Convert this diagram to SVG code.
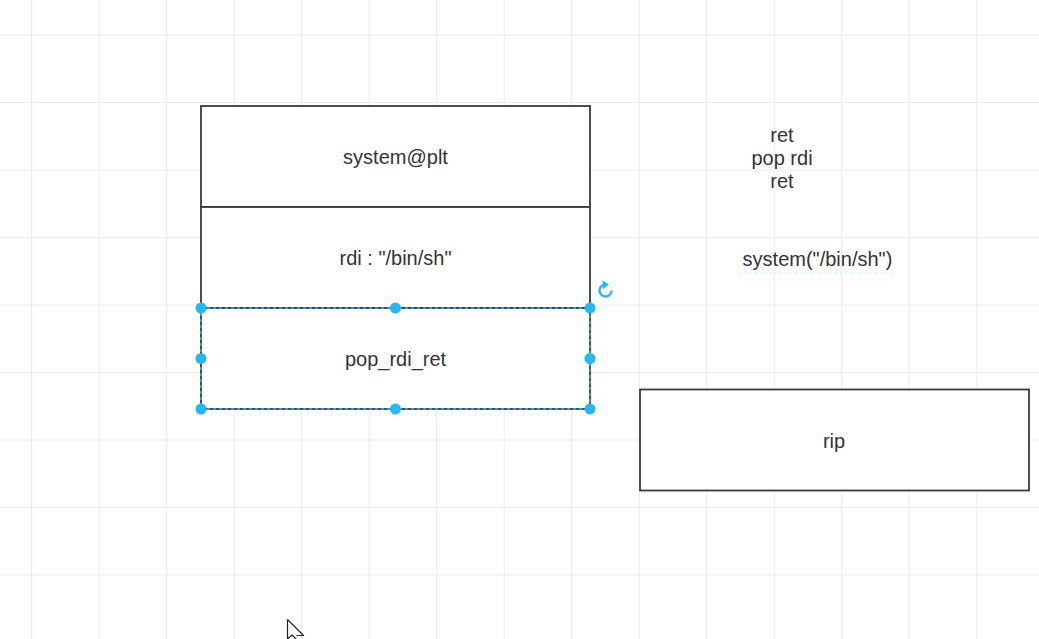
<svg xmlns="http://www.w3.org/2000/svg" width="1039" height="639" viewBox="0 0 1039 639">
  <style>
    .grid line { stroke: #ebebeb; stroke-width: 1; }
    .box { fill: #ffffff; stroke: #3a3a3a; stroke-width: 1.8; }
    .lbl { font-family: "Liberation Sans", Arial, sans-serif; font-size: 20px; fill: #333333; text-anchor: middle; }
    .sel { fill: none; stroke: #29b6f2; stroke-width: 1.5; stroke-dasharray: 3 3; }
    .handle { fill: #29b6f2; }
  </style>
  <rect x="0" y="0" width="1039" height="639" fill="#ffffff"/>
  <g class="grid">
    <line x1="31.7" y1="0" x2="31.7" y2="639"/>
    <line x1="99.2" y1="0" x2="99.2" y2="639"/>
    <line x1="166.7" y1="0" x2="166.7" y2="639"/>
    <line x1="234.2" y1="0" x2="234.2" y2="639"/>
    <line x1="301.7" y1="0" x2="301.7" y2="639"/>
    <line x1="369.2" y1="0" x2="369.2" y2="639"/>
    <line x1="436.7" y1="0" x2="436.7" y2="639"/>
    <line x1="504.2" y1="0" x2="504.2" y2="639"/>
    <line x1="571.7" y1="0" x2="571.7" y2="639"/>
    <line x1="639.2" y1="0" x2="639.2" y2="639"/>
    <line x1="706.7" y1="0" x2="706.7" y2="639"/>
    <line x1="774.2" y1="0" x2="774.2" y2="639"/>
    <line x1="841.7" y1="0" x2="841.7" y2="639"/>
    <line x1="909.2" y1="0" x2="909.2" y2="639"/>
    <line x1="976.7" y1="0" x2="976.7" y2="639"/>
    <line x1="0" y1="35" x2="1039" y2="35"/>
    <line x1="0" y1="102.5" x2="1039" y2="102.5"/>
    <line x1="0" y1="170" x2="1039" y2="170"/>
    <line x1="0" y1="237.5" x2="1039" y2="237.5"/>
    <line x1="0" y1="305" x2="1039" y2="305"/>
    <line x1="0" y1="372.5" x2="1039" y2="372.5"/>
    <line x1="0" y1="440" x2="1039" y2="440"/>
    <line x1="0" y1="507.5" x2="1039" y2="507.5"/>
    <line x1="0" y1="575" x2="1039" y2="575"/>
  </g>

  <g id="connectors"></g>

  <g id="node-system-plt">
    <rect class="box" x="201" y="106" width="389" height="101"/>
    <text class="lbl" x="395.5" y="164">system@plt</text>
  </g>
  <g id="node-rdi">
    <rect class="box" x="201" y="207" width="389" height="101"/>
    <text class="lbl" x="395.5" y="265">rdi : "/bin/sh"</text>
  </g>
  <g id="node-pop-rdi-ret">
    <rect class="box" x="201" y="308" width="389" height="101"/>
    <text class="lbl" x="395.5" y="366">pop_rdi_ret</text>
    <rect class="sel" x="201" y="308" width="389" height="101"/>
    <circle class="handle" cx="201" cy="308" r="5.5"/>
    <circle class="handle" cx="395.5" cy="308" r="5.5"/>
    <circle class="handle" cx="590" cy="308" r="5.5"/>
    <circle class="handle" cx="201" cy="358.5" r="5.5"/>
    <circle class="handle" cx="590" cy="358.5" r="5.5"/>
    <circle class="handle" cx="201" cy="409" r="5.5"/>
    <circle class="handle" cx="395.5" cy="409" r="5.5"/>
    <circle class="handle" cx="590" cy="409" r="5.5"/>
    <path d="M 611.5 290.5 A 6 6 0 1 1 606 284.5" fill="none" stroke="#29b6f2" stroke-width="2.4"/>
    <path d="M 602.5 280.5 L 609 284.5 L 603 289 Z" fill="#29b6f2"/>
  </g>

  <g id="node-gadget-text">
    <text class="lbl" x="782" y="142">ret</text>
    <text class="lbl" x="782" y="165">pop rdi</text>
    <text class="lbl" x="782" y="188">ret</text>
  </g>
  <g id="node-system-call">
    <text class="lbl" x="817.5" y="266">system("/bin/sh")</text>
    <line x1="740" y1="273" x2="894" y2="273" stroke="#bfe7f8" stroke-width="1" stroke-dasharray="2 3"/>
  </g>
  <g id="node-rip">
    <rect class="box" x="640" y="389.5" width="389" height="101"/>
    <text class="lbl" x="834" y="448">rip</text>
  </g>

  <path d="M 287.5 619.5 L 287.5 639 L 292 635 L 296 639 M 287.5 619.5 L 303.5 635.5 L 296.5 635.5" fill="#ffffff" stroke="#222222" stroke-width="1.2" stroke-linejoin="round"/>
</svg>
